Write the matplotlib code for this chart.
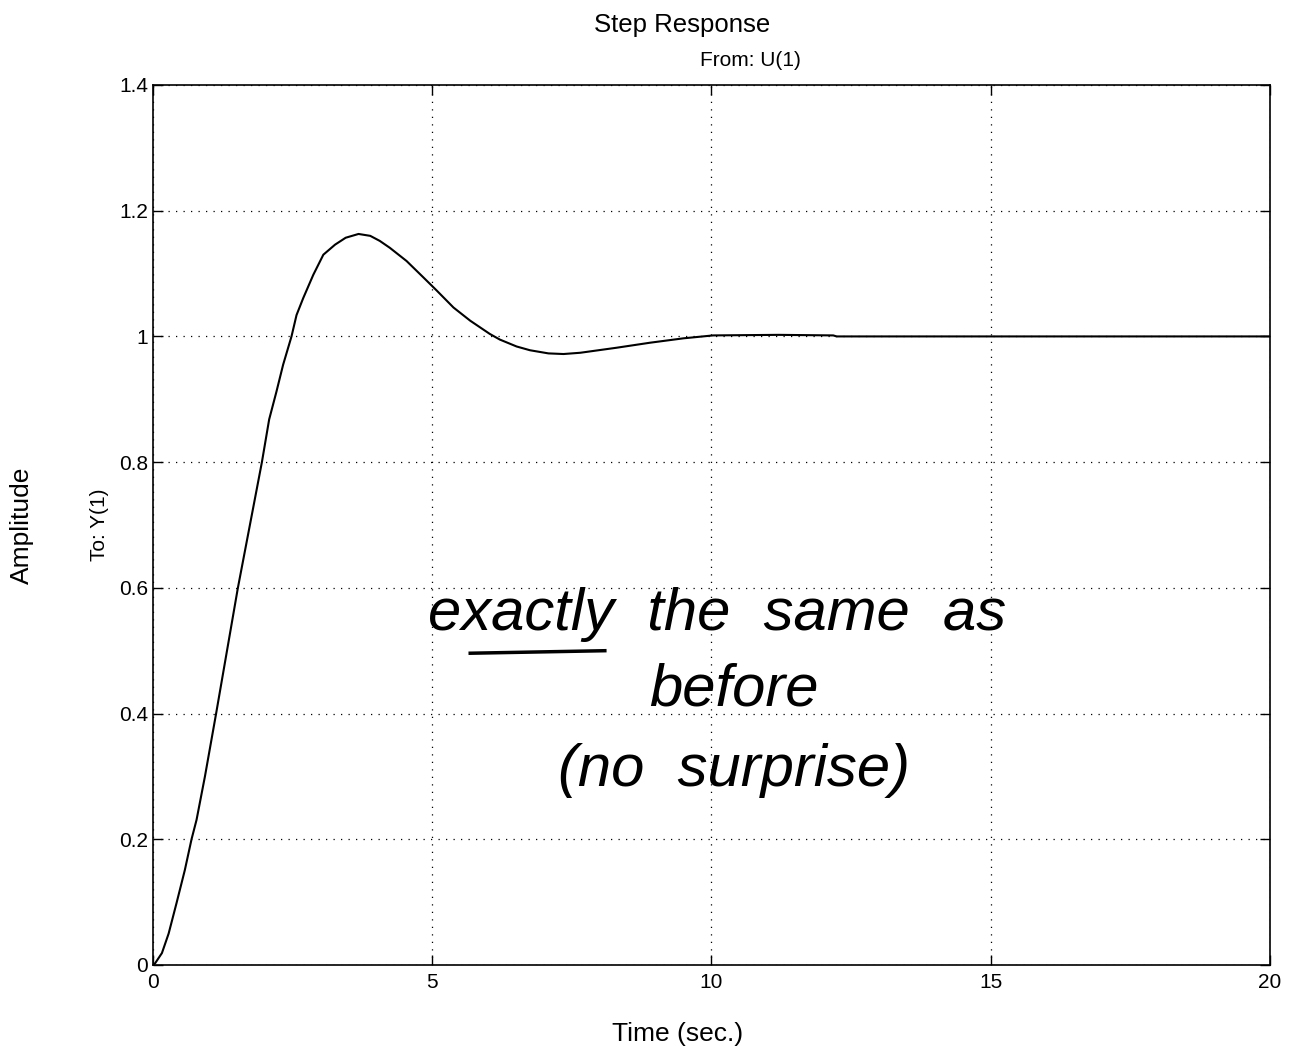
import matplotlib.pyplot as plt

# step response
t = [0, 0.04, 0.16, 0.28, 0.42, 0.57, 0.69, 0.78, 0.93, 1.13, 1.52, 1.95, 2.08,
     2.21, 2.33, 2.48, 2.57, 2.69, 2.87, 3.05, 3.26, 3.45, 3.68, 3.89, 4.06, 4.24,
     4.54, 4.84, 5.08, 5.38, 5.68, 6.03, 6.21, 6.51, 6.75, 7.08, 7.35, 7.65, 8.30,
     8.90, 9.50, 10.03, 11.2, 12.18, 12.24, 20.0]
y = [0, 0.003, 0.019, 0.05, 0.098, 0.151, 0.2, 0.231, 0.30, 0.40, 0.60, 0.80, 0.868,
     0.912, 0.955, 1.0, 1.034, 1.061, 1.098, 1.130, 1.146, 1.157, 1.163, 1.160, 1.152, 1.141,
     1.12, 1.094, 1.073, 1.046, 1.025, 1.004, 0.995, 0.984, 0.978, 0.973, 0.972, 0.974, 0.982,
     0.990, 0.997, 1.0016, 1.0025, 1.0016, 1.0, 1.0]

xticks = [0, 5, 10, 15, 20]
yticks = [0, 0.2, 0.4, 0.6, 0.8, 1, 1.2, 1.4]
ytick_labels = ["0", "0.2", "0.4", "0.6", "0.8", "1", "1.2", "1.4"]

plt.rcParams['font.family'] = ['Liberation Sans', 'DejaVu Sans']

fig = plt.figure(figsize=(12.9, 10.48), dpi=100)
ax = fig.add_axes([0.1186, 0.0792, 0.8659, 0.8397])

ax.plot(t, y, color='black', lw=1.5, solid_joinstyle='round')

ax.set_xlim(0, 20)
ax.set_ylim(0, 1.4)
ax.set_xticks(xticks)
ax.set_yticks(yticks)
ax.set_yticklabels(ytick_labels)
ax.tick_params(direction='in', top=True, right=True, length=7, labelsize=15, width=1)
ax.tick_params(axis='x', pad=6)
ax.grid(True, color='black', linestyle=(0, (1, 5)), linewidth=0.9)
for s in ax.spines.values():
    s.set_linewidth(1.2)

fig.text(0.529, 0.976, "Step Response", ha='center', va='center', fontsize=18.5)
fig.text(0.582, 0.942, "From: U(1)", ha='center', va='center', fontsize=15)
fig.text(0.017, 0.499, "Amplitude", rotation=90, ha='center', va='center', fontsize=19)
fig.text(0.077, 0.499, "To: Y(1)", rotation=90, ha='center', va='center', fontsize=15)
fig.text(0.525, 0.013, "Time (sec.)", ha='center', va='center', fontsize=19)

# handwritten note
ax.text(10.1, 0.557, "exactly  the  same  as", fontsize=43, style='italic', ha='center', va='center')
ax.text(10.4, 0.437, "before", fontsize=43, style='italic', ha='center', va='center')
ax.text(10.4, 0.31, "(no  surprise)", fontsize=43, style='italic', ha='center', va='center')
ax.plot([5.68, 8.09], [0.496, 0.50], color='black', lw=2.5)

fig.savefig("out.png", dpi=100)
